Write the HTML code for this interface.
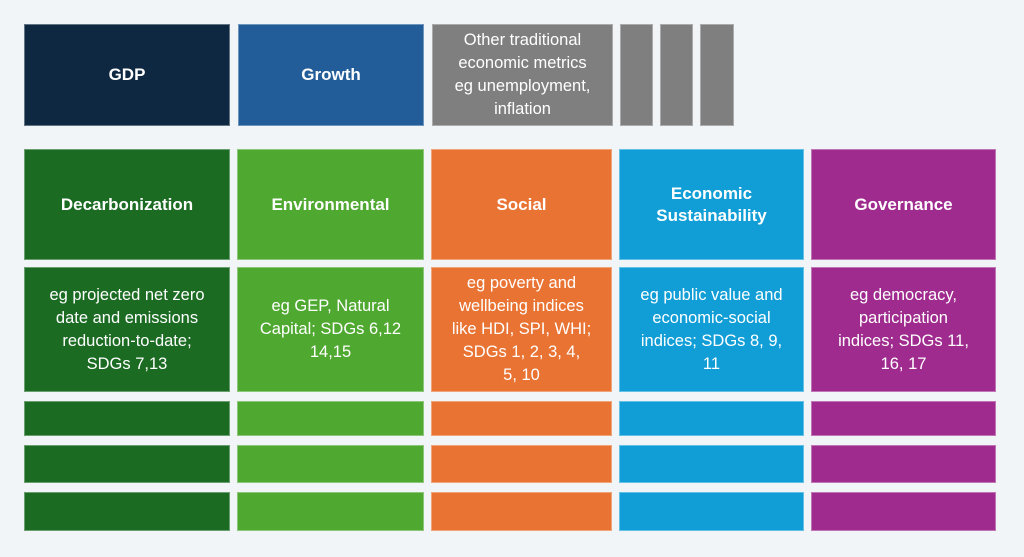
<!DOCTYPE html>
<html><head><style>
body{margin:0;width:1024px;height:557px;background:#f2f5f8;position:relative;overflow:hidden;font-family:"Liberation Sans",Arial,sans-serif}
.b{position:absolute;display:flex;align-items:center;justify-content:center;text-align:center;color:#fff;box-sizing:border-box;border:1px solid rgba(255,255,255,0.35);white-space:nowrap}
.h{font-weight:bold;font-size:17px;line-height:22px}
.t{font-size:16.5px;line-height:23px}
</style></head><body>
<div class="b h" style="left:24px;top:24px;width:206px;height:102px;background:#0f2842">GDP</div>
<div class="b h" style="left:238px;top:24px;width:186px;height:102px;background:#225d99">Growth</div>
<div class="b t" style="left:432px;top:24px;width:181px;height:102px;background:#7f7f7f">Other traditional<br>economic metrics<br>eg unemployment,<br>inflation</div>
<div class="b" style="left:620px;top:24px;width:33px;height:102px;background:#7f7f7f"></div>
<div class="b" style="left:660px;top:24px;width:33px;height:102px;background:#7f7f7f"></div>
<div class="b" style="left:700px;top:24px;width:34px;height:102px;background:#7f7f7f"></div>

<div class="b h" style="left:24px;top:149px;width:206px;height:111px;background:#1b6b23">Decarbonization</div>
<div class="b h" style="left:237px;top:149px;width:187px;height:111px;background:#4fa830">Environmental</div>
<div class="b h" style="left:431px;top:149px;width:181px;height:111px;background:#e87333">Social</div>
<div class="b h" style="left:619px;top:149px;width:185px;height:111px;background:#119ed6">Economic<br>Sustainability</div>
<div class="b h" style="left:811px;top:149px;width:185px;height:111px;background:#9f2b8e">Governance</div>

<div class="b t" style="left:24px;top:267px;width:206px;height:125px;background:#1b6b23">eg projected net zero<br>date and emissions<br>reduction-to-date;<br>SDGs 7,13</div>
<div class="b t" style="left:237px;top:267px;width:187px;height:125px;background:#4fa830">eg GEP, Natural<br>Capital; SDGs 6,12<br>14,15</div>
<div class="b t" style="left:431px;top:267px;width:181px;height:125px;background:#e87333">eg poverty and<br>wellbeing indices<br>like HDI, SPI, WHI;<br>SDGs 1, 2, 3, 4,<br>5, 10</div>
<div class="b t" style="left:619px;top:267px;width:185px;height:125px;background:#119ed6">eg public value and<br>economic-social<br>indices; SDGs 8, 9,<br>11</div>
<div class="b t" style="left:811px;top:267px;width:185px;height:125px;background:#9f2b8e">eg democracy,<br>participation<br>indices; SDGs 11,<br>16, 17</div>

<div class="b" style="left:24px;top:401px;width:206px;height:35px;background:#1b6b23"></div>
<div class="b" style="left:237px;top:401px;width:187px;height:35px;background:#4fa830"></div>
<div class="b" style="left:431px;top:401px;width:181px;height:35px;background:#e87333"></div>
<div class="b" style="left:619px;top:401px;width:185px;height:35px;background:#119ed6"></div>
<div class="b" style="left:811px;top:401px;width:185px;height:35px;background:#9f2b8e"></div>

<div class="b" style="left:24px;top:445px;width:206px;height:38px;background:#1b6b23"></div>
<div class="b" style="left:237px;top:445px;width:187px;height:38px;background:#4fa830"></div>
<div class="b" style="left:431px;top:445px;width:181px;height:38px;background:#e87333"></div>
<div class="b" style="left:619px;top:445px;width:185px;height:38px;background:#119ed6"></div>
<div class="b" style="left:811px;top:445px;width:185px;height:38px;background:#9f2b8e"></div>

<div class="b" style="left:24px;top:492px;width:206px;height:39px;background:#1b6b23"></div>
<div class="b" style="left:237px;top:492px;width:187px;height:39px;background:#4fa830"></div>
<div class="b" style="left:431px;top:492px;width:181px;height:39px;background:#e87333"></div>
<div class="b" style="left:619px;top:492px;width:185px;height:39px;background:#119ed6"></div>
<div class="b" style="left:811px;top:492px;width:185px;height:39px;background:#9f2b8e"></div>
</body></html>
